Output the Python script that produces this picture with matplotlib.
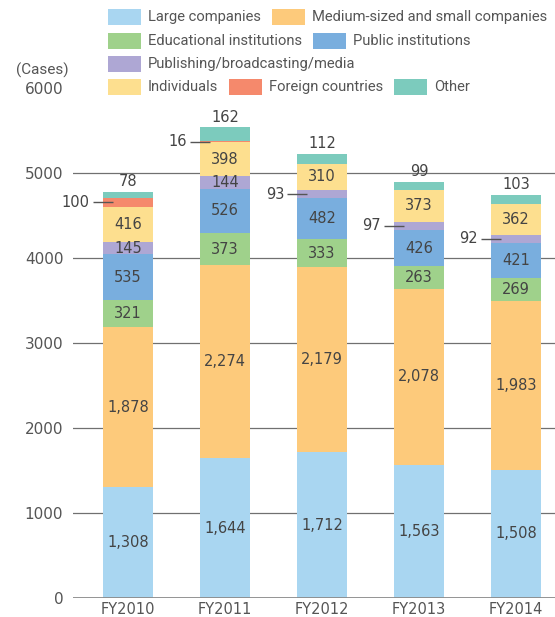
import matplotlib

matplotlib.use("Agg")
import matplotlib.pyplot as plt
from matplotlib.patches import Rectangle
from matplotlib import font_manager
import numpy as np

years = ["FY2010", "FY2011", "FY2012", "FY2013", "FY2014"]
categories = [
    "Large companies",
    "Medium-sized and small companies",
    "Educational institutions",
    "Public institutions",
    "Publishing/broadcasting/media",
    "Individuals",
    "Foreign countries",
    "Other",
]
large = [1308, 1644, 1712, 1563, 1508]
medium = [1878, 2274, 2179, 2078, 1983]
educational = [321, 373, 333, 263, 269]
public = [535, 526, 482, 426, 421]
publishing = [145, 144, 93, 97, 92]
individuals = [416, 398, 310, 373, 362]
foreign = [100, 16, 0, 0, 0]
other = [78, 162, 112, 99, 103]

series = [large, medium, educational, public, publishing, individuals, foreign, other]
colors = ["#a9d6f1", "#fdca7b", "#9fd18b", "#79aede", "#aea7d4",
          "#fddf8f", "#f5896c", "#7ccbbd"]

names = {f.name for f in font_manager.fontManager.ttflist}
legend_font = "Liberation Sans Narrow" if "Liberation Sans Narrow" in names else "Roboto"
txt = "#444444"

W, H = 555, 617
fig = plt.figure(figsize=(W / 100, H / 100), dpi=100)
ax = fig.add_axes([73 / W, 19 / H, (W - 73) / W, (598 - 88) / H])

x = np.arange(len(years))
bw = 0.515
lead = 0.105
bottom = np.zeros(len(years))
for i, (vals, col) in enumerate(zip(series, colors)):
    vals = np.array(vals, dtype=float)
    ax.bar(x, vals, bw, bottom=bottom, color=col, zorder=2, linewidth=0)
    for j, v in enumerate(vals):
        if v == 0:
            continue
        lab = f"{int(v):,}"
        if i == len(series) - 1:
            ax.annotate(lab, (x[j], bottom[j] + v), xytext=(0, 2),
                        textcoords="offset points", ha="center", va="bottom",
                        fontsize=10.5, color=txt)
        elif v < 120:
            yc = bottom[j] + v / 2
            ax.plot([x[j] - bw / 2 - lead, x[j] - bw / 2 + lead], [yc, yc],
                    color="#555555", lw=1, zorder=3, solid_capstyle="butt")
            ax.text(x[j] - bw / 2 - lead - 0.03, yc, lab, ha="right",
                    va="center", fontsize=10.5, color=txt)
        else:
            ax.text(x[j], bottom[j] + v / 2, lab, ha="center", va="center",
                    fontsize=10.5, color=txt, zorder=4)
    bottom += vals

for g in range(1000, 6000, 1000):
    ax.axhline(g, color="#707070", lw=0.9, zorder=0)
ax.axhline(0, color="#8a8a8a", lw=2, zorder=3)

ax.set_xlim(-0.567, 4.40)
ax.set_ylim(0, 6000)
ax.set_yticks(range(0, 7000, 1000))
ax.set_xticks(x)
ax.set_xticklabels(years)
ax.tick_params(length=0, colors="#555555", labelsize=11)
ax.tick_params(axis="y", pad=7)
ax.tick_params(axis="x", pad=3, labelsize=10.5)
for s in ax.spines.values():
    s.set_visible(False)

fig.text(42 / W, 1 - 70 / H, "(Cases)", ha="center", va="center",
         fontsize=11, color="#555555", family=[legend_font, "DejaVu Sans"])

# legend, laid out row by row
rows = [[0, 1], [2, 3], [4], [5, 6, 7]]
row_y = [17, 41, 64, 87]
lsize = 12.5 if legend_font == "Liberation Sans Narrow" else 10.6
renderer = fig.canvas.get_renderer()
for row, yc in zip(rows, row_y):
    xp = 108
    for k in row:
        fig.add_artist(Rectangle((xp / W, 1 - (yc + 8) / H), 33 / W, 16 / H,
                                 transform=fig.transFigure, color=colors[k],
                                 linewidth=0))
        t = fig.text((xp + 40) / W, 1 - yc / H, categories[k], ha="left",
                     va="center", fontsize=lsize, color="#555555",
                     family=[legend_font, "DejaVu Sans"])
        bb = t.get_window_extent(renderer)
        xp = bb.x1 + 11

fig.savefig("out.png", dpi=100)
